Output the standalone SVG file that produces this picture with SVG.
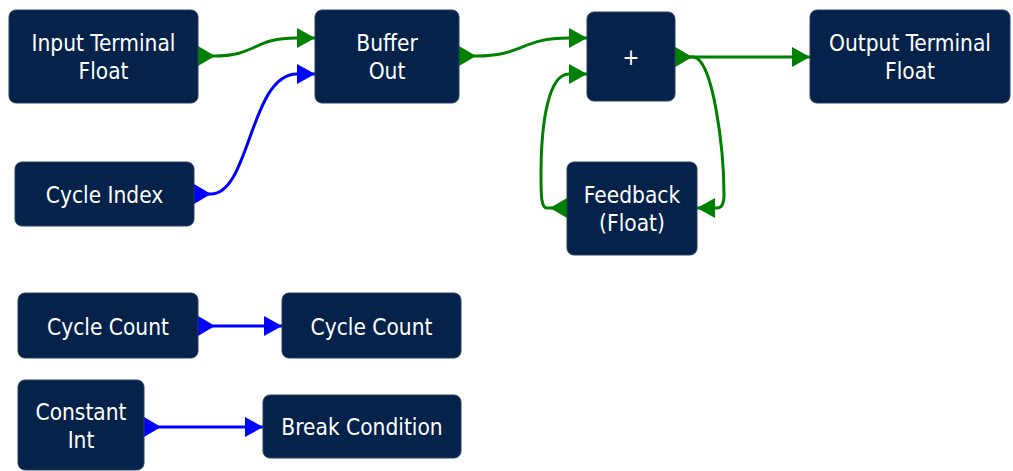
<svg xmlns="http://www.w3.org/2000/svg" width="1013" height="471" viewBox="0 0 1013 471">
<style>
.node rect{fill:#05224a;stroke:#2a3f60;stroke-width:1}
.node text{fill:#ffffff;font-family:"DejaVu Sans Condensed","DejaVu Sans",sans-serif;font-stretch:condensed;font-size:22.5px;text-anchor:middle}
.g{fill:none;stroke:#008000;stroke-width:3;marker-start:url(#sg);marker-end:url(#eg)}
.b{fill:none;stroke:#0000ff;stroke-width:3;marker-start:url(#sb);marker-end:url(#eb)}
</style>
<defs>
<marker id="sg" markerUnits="userSpaceOnUse" markerWidth="20" markerHeight="22" refX="0" refY="10" orient="auto" overflow="visible"><path d="M0,0 L17,10 L0,20 Z" fill="#008000"/></marker>
<marker id="eg" markerUnits="userSpaceOnUse" markerWidth="20" markerHeight="22" refX="18" refY="10" orient="auto" overflow="visible"><path d="M0,0 L18,10 L0,20 Z" fill="#008000"/></marker>
<marker id="sb" markerUnits="userSpaceOnUse" markerWidth="20" markerHeight="22" refX="0" refY="10" orient="auto" overflow="visible"><path d="M0,0 L17,10 L0,20 Z" fill="#0000ff"/></marker>
<marker id="eb" markerUnits="userSpaceOnUse" markerWidth="20" markerHeight="22" refX="18" refY="10" orient="auto" overflow="visible"><path d="M0,0 L18,10 L0,20 Z" fill="#0000ff"/></marker>
</defs>
<rect width="1013" height="471" fill="#ffffff"/>
<g id="connectors">
<path class="g" d="M198,56 L213,56 C258,56 252,38 297,38 L315,38"/>
<path class="b" d="M194,194 L211,194 C250,194 250,74 297,74 L315,74"/>
<path class="g" d="M459,56 L476,56 C524,56 520,38 569,38 L587,38"/>
<path class="g" d="M675,57 L792,57 L810,57"/>
<path class="g" d="M675,57 L693,57 C713,57 724,150 724,195 C724,205 721,208 717,208 L697,208"/>
<path class="g" d="M567,208 L547,208 C541,208 541,195 541,175 C541,120 549,74 569,74 L587,74"/>
<path class="b" d="M198,326 L215,326 L264,326 L282,326"/>
<path class="b" d="M144,427 L161,427 L245,427 L263,427"/>
</g>
<g id="node-input" class="node"><rect x="9" y="10" width="189" height="93" rx="7"/><text x="103.5" y="51">Input Terminal</text><text x="103.5" y="79">Float</text></g>
<g id="node-buffer" class="node"><rect x="315" y="10" width="144" height="93" rx="7"/><text x="387" y="51">Buffer</text><text x="387" y="79">Out</text></g>
<g id="node-plus" class="node"><rect x="587" y="12" width="88" height="89" rx="7"/><text x="631" y="65">+</text></g>
<g id="node-output" class="node"><rect x="810" y="10" width="200" height="93" rx="7"/><text x="910" y="51">Output Terminal</text><text x="910" y="79">Float</text></g>
<g id="node-cycleindex" class="node"><rect x="15" y="162" width="179" height="64" rx="7"/><text x="104.5" y="203">Cycle Index</text></g>
<g id="node-feedback" class="node"><rect x="567" y="162" width="130" height="93" rx="7"/><text x="632" y="203">Feedback</text><text x="632" y="231">(Float)</text></g>
<g id="node-cyclecount1" class="node"><rect x="18" y="293" width="180" height="65" rx="7"/><text x="108" y="334.5">Cycle Count</text></g>
<g id="node-cyclecount2" class="node"><rect x="282" y="293" width="179" height="65" rx="7"/><text x="371.5" y="334.5">Cycle Count</text></g>
<g id="node-constant" class="node"><rect x="18" y="380" width="126" height="90" rx="7"/><text x="81" y="420">Constant</text><text x="81" y="448">Int</text></g>
<g id="node-break" class="node"><rect x="263" y="395" width="198" height="63" rx="7"/><text x="362" y="435">Break Condition</text></g>
</svg>
